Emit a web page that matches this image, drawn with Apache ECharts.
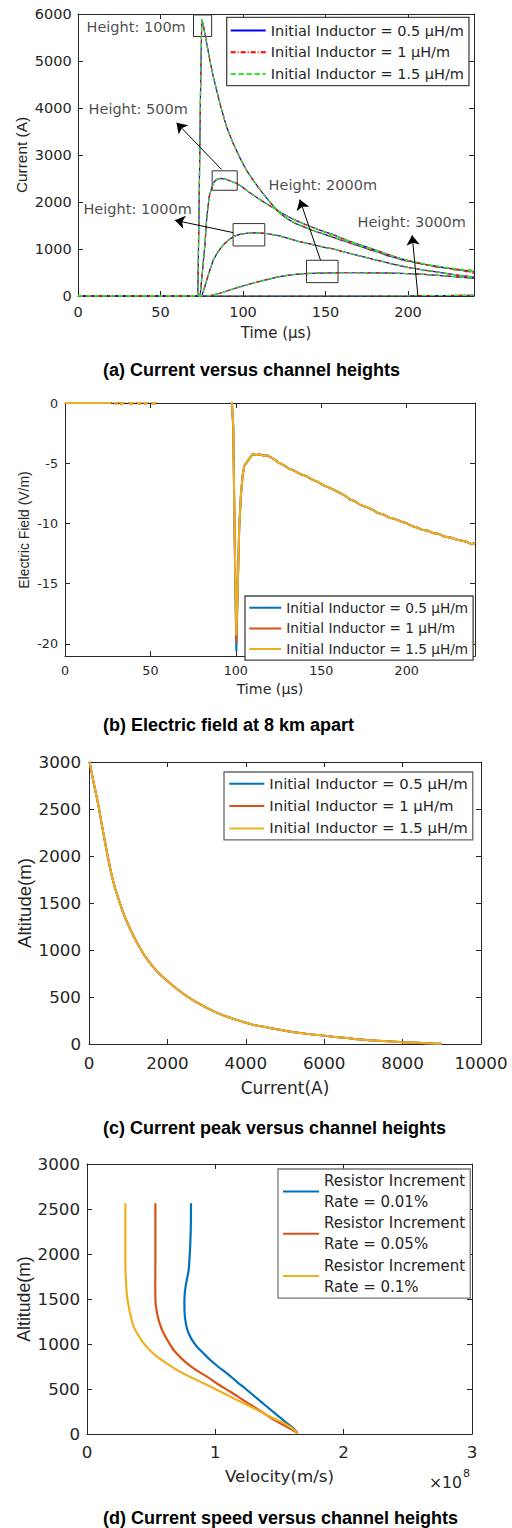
<!DOCTYPE html>
<html><head><meta charset="utf-8">
<script src="https://cdn.jsdelivr.net/npm/echarts@6/dist/echarts.min.js"></script>
<style>html,body{margin:0;padding:0;background:#fff}#c{width:512px;height:1528px}</style>
</head><body><div id="c"></div>
<script>
// ================= DATA =================
// ---- Panel (a): current (A) vs time (µs) for several channel heights ----
const a_t100 = [0, 72.6, 73.4, 74.2, 75, 75.8, 77, 78, 80, 82, 84, 86, 88, 90, 94, 98, 102, 106, 112, 117, 122, 127, 132, 137, 142, 147, 152, 157, 162, 167, 172, 177, 182, 187, 192, 197, 202, 207, 212, 217, 222, 227, 232, 236, 240];
const a_I100_L05 = [0, 0, 1900, 4200, 5880, 5790, 5560, 5376, 5000, 4667, 4380, 4100, 3850, 3603, 3248, 2950, 2681, 2470, 2185, 1970, 1770, 1640, 1540, 1470, 1400, 1340, 1280, 1220, 1160, 1100, 1045, 985, 930, 870, 815, 770, 730, 695, 660, 630, 600, 575, 550, 535, 520];
const a_I100_L1  = [0, 0, 1900, 4200, 5850, 5790, 5560, 5376, 5000, 4667, 4380, 4100, 3850, 3603, 3248, 2950, 2681, 2470, 2185, 1970, 1770, 1640, 1540, 1470, 1400, 1340, 1295, 1210, 1175, 1090, 1060, 975, 945, 860, 830, 755, 740, 680, 665, 615, 605, 560, 548, 510, 480];
const a_I100_L15 = [0, 0, 1900, 4200, 5900, 5800, 5560, 5376, 5000, 4667, 4380, 4100, 3850, 3603, 3248, 2950, 2681, 2470, 2185, 1970, 1770, 1640, 1540, 1470, 1400, 1340, 1290, 1230, 1170, 1115, 1050, 1000, 940, 885, 825, 785, 740, 710, 670, 645, 615, 595, 570, 560, 550];

const a_t500 = [0, 74, 75.5, 77, 78, 79.5, 81, 82.5, 84.5, 86.5, 90, 96, 100, 104, 109, 114, 119, 124, 129, 134, 139, 144, 150, 155, 160, 165, 170, 175, 180, 185, 190, 195, 200, 205, 210, 215, 220, 225, 230, 235, 240];
const a_I500 = [0, 0, 560, 1121, 1650, 2113, 2300, 2432, 2490, 2504, 2480, 2400, 2310, 2200, 2080, 1967, 1860, 1754, 1660, 1577, 1505, 1435, 1360, 1300, 1230, 1160, 1100, 1040, 980, 920, 860, 800, 755, 710, 675, 640, 615, 590, 565, 540, 515];

const a_t1000 = [0, 75, 76.5, 78, 80, 82, 85, 88, 91, 94, 98, 102, 106, 110, 114, 118, 122, 128, 134, 139, 144, 150, 155, 160, 165, 170, 175, 180, 185, 190, 195, 200, 205, 210, 215, 220, 225, 230, 235, 240];
const a_I1000 = [0, 0, 160, 340, 560, 766, 950, 1085, 1185, 1262, 1310, 1335, 1345, 1345, 1330, 1305, 1280, 1220, 1160, 1120, 1080, 1030, 1000, 950, 905, 860, 815, 770, 730, 685, 645, 610, 580, 550, 525, 497, 470, 445, 422, 400];

const a_t2000 = [0, 78, 82, 87, 92, 97, 102, 107, 112, 117, 122, 127, 132, 137, 142, 147, 152, 160, 170, 180, 190, 200, 210, 220, 230, 240];
const a_I2000 = [0, 0, 21, 70, 128, 182, 234, 282, 326, 370, 411, 440, 461, 474, 483, 488, 490, 495, 495, 492, 486, 476, 460, 435, 408, 376];

const a_t3000 = [0, 180, 200, 220, 240];
const a_I3000 = [0, 0, 4, 9, 16];

// annotations (data coordinates)
const a_labelText = ['Height: 100m', 'Height: 500m', 'Height: 1000m', 'Height: 2000m', 'Height: 3000m'];
const a_labelT = [4.85, 6.1, 3.0, 115.2, 169.1];
const a_labelI = [5723, 3979, 1851, 2362, 1574];
const a_boxes = [[70, 5520, 81, 5980], [81.3, 2250, 96.5, 2663], [94, 1065, 113.2, 1541], [138.5, 284, 157.6, 760]];
const a_arrows = [[87, 2692, 59.7, 3686], [94, 1349, 58.7, 1612], [147, 760, 134.4, 2052], [206, 0, 202.5, 1293]];

// ---- Panel (b): electric field (V/m) vs time (µs) ----
const b_t = [0, 26.5, 28, 30, 31.5, 33, 36, 38.8, 41, 43.5, 45.5, 47, 49.5, 52, 54, 97.6, 98.5, 99.4, 100.3, 101, 102, 103, 104, 105, 107, 109.8, 112, 114, 116, 118, 120, 122.5, 125, 128, 131, 134, 138, 141, 145, 148, 151, 154, 157.5, 161, 164, 167, 170, 173, 177, 180, 183, 187, 190, 193, 196.6, 200, 203, 206, 209, 212, 216, 219, 222, 226, 229, 232, 235, 238, 240];
const b_E_common = [0, 0, 0.3, -0.12, 0.3, -0.12, 0.3, -0.12, 0.3, -0.12, 0.3, -0.12, 0.3, -0.12, 0.3, 0.3, -2, -12, null, -15.9, -10.3, -7.6, -6.0, -5.2, -4.8, -4.25, -4.32, -4.26, -4.36, -4.33, -4.48, -4.67, -4.95, -5.15, -5.45, -5.6, -5.92, -6.05, -6.38, -6.55, -6.82, -6.98, -7.22, -7.48, -7.7, -8.02, -8.18, -8.47, -8.66, -8.86, -9.12, -9.3, -9.52, -9.62, -9.83, -9.98, -10.22, -10.33, -10.52, -10.58, -10.82, -10.88, -11.08, -11.18, -11.33, -11.42, -11.52, -11.72, -11.62];
const b_peak = [-20.6, -19.9, -19.3]; // spike minimum for 0.5, 1, 1.5 µH/m

// ---- Panel (c): current peak (A) vs altitude (m) ----
const c_I = [15, 120, 238, 320, 408, 490, 578, 660, 748, 870, 1003, 1130, 1258, 1420, 1599, 1800, 2024, 2230, 2449, 2660, 2874, 3080, 3299, 3510, 3724, 3940, 4150, 4360, 4575, 4790, 5000, 5468, 5850, 6232, 6650, 7075, 7500, 7925, 8400, 8800, 9000];
const c_alt = [3000, 2780, 2543, 2350, 2152, 1970, 1798, 1665, 1550, 1400, 1266, 1155, 1053, 940, 840, 745, 663, 590, 521, 465, 415, 368, 326, 292, 262, 234, 209, 190, 174, 157, 142, 113, 95, 78, 60, 43, 31, 21, 12, 5, 2];
const c_I_05 = c_I, c_I_1 = c_I, c_I_15 = c_I;

// ---- Panel (d): velocity (×1e8 m/s) vs altitude (m) ----
const d_alt_001 = [2563, 2400, 2250, 2119, 1980, 1822, 1730, 1637, 1545, 1452, 1360, 1267, 1190, 1119, 1045, 970, 900, 822, 750, 674, 580, 489, 396, 303, 210, 119, 60, 10];
const d_v_001 = [0.81, 0.81, 0.808, 0.805, 0.80, 0.792, 0.78, 0.768, 0.761, 0.759, 0.760, 0.766, 0.776, 0.792, 0.818, 0.857, 0.905, 0.961, 1.02, 1.091, 1.168, 1.247, 1.325, 1.403, 1.481, 1.559, 1.61, 1.642];
const d_alt_005 = [2563, 2200, 1933, 1700, 1489, 1420, 1341, 1230, 1119, 1030, 933, 860, 785, 710, 637, 550, 470, 385, 303, 220, 137, 70, 10];
const d_v_005 = [0.533, 0.533, 0.533, 0.532, 0.533, 0.537, 0.546, 0.566, 0.597, 0.632, 0.675, 0.722, 0.779, 0.851, 0.935, 1.025, 1.117, 1.208, 1.299, 1.39, 1.481, 1.57, 1.642];
const d_alt_01 = [2563, 2200, 1933, 1780, 1637, 1520, 1415, 1300, 1193, 1100, 1007, 930, 859, 785, 711, 637, 563, 480, 396, 313, 230, 165, 100, 50, 5];
const d_v_01 = [0.299, 0.299, 0.299, 0.301, 0.306, 0.313, 0.325, 0.342, 0.364, 0.398, 0.442, 0.490, 0.546, 0.62, 0.701, 0.80, 0.909, 1.026, 1.143, 1.26, 1.377, 1.468, 1.559, 1.61, 1.642];

const inductorNames = ['Initial Inductor = 0.5 µH/m', 'Initial Inductor = 1 µH/m', 'Initial Inductor = 1.5 µH/m'];
const resistorNames = ['Resistor Increment\nRate = 0.01%', 'Resistor Increment\nRate = 0.05%', 'Resistor Increment\nRate = 0.1%'];

// ================= CHART =================
const AXC = '#262626';
const FH = 'DejaVu Sans';
const FR = 'Liberation Sans';
const pairs = (xs, ys) => xs.map((x, i) => [x, ys[i]]);
const strip = n => n.replace(/\u200B/g, '');
const tag = (n, k) => n + '\u200B'.repeat(k);

function axisPair(kind, grid, min, max, interval, fs, margin, extra) {
  const base = {gridIndex: grid, type: 'value', min, max, splitLine: {show: false},
    axisLine: {show: true, onZero: false, lineStyle: {color: AXC, width: 1}},
    axisTick: {show: true, inside: true, length: 5, lineStyle: {color: AXC, width: 1}}};
  if (interval != null) base.interval = interval;
  const lab = Object.assign({show: true, color: AXC, fontSize: fs, fontFamily: FH, margin, formatter: v => String(v)}, extra || {});
  return [
    Object.assign({}, base, {position: kind === 'x' ? 'bottom' : 'left', axisLabel: lab}),
    Object.assign({}, base, {position: kind === 'x' ? 'top' : 'right', axisLabel: {show: false}})
  ];
}

const xAxis = [].concat(
  axisPair('x', 0, 0, 240, 50, 14.5, 8.5, {showMaxLabel: false}),
  axisPair('x', 1, 0, 240, 50, 12.7, 7.5, {showMaxLabel: false}),
  axisPair('x', 2, 0, 10000, 2000, 16.7, 10.5),
  axisPair('x', 3, 0, 3, 1, 16.7, 9.7)
);
const yAxis = [].concat(
  axisPair('y', 0, 0, 6000, 1000, 14.5, 6.3),
  axisPair('y', 1, -21, 0, null, 12.7, 7, {showMinLabel: false}),
  axisPair('y', 2, 0, 3000, 500, 16.7, 8),
  axisPair('y', 3, 0, 3000, 500, 16.7, 7)
);

const series = [];
// Panel (a)
const aSets = [
  [a_t100, [a_I100_L05, a_I100_L1, a_I100_L15]],
  [a_t500, [a_I500, a_I500, a_I500]],
  [a_t1000, [a_I1000, a_I1000, a_I1000]],
  [a_t2000, [a_I2000, a_I2000, a_I2000]],
  [a_t3000, [a_I3000, a_I3000, a_I3000]]
];
const aStyles = [
  {color: '#0000ff', type: 'solid'},
  {color: '#ff0000', type: [5, 2, 1, 2]},
  {color: '#22ee22', type: [5, 3]}
];
for (let k = 0; k < 3; k++) {
  aSets.forEach(([t, arr]) => {
    series.push({type: 'line', name: inductorNames[k], xAxisIndex: 0, yAxisIndex: 0,
      data: pairs(t, arr[k]), symbol: 'none', showSymbol: false,
      lineStyle: {color: aStyles[k].color, width: 1.2, type: aStyles[k].type},
      itemStyle: {color: aStyles[k].color}, silent: true, z: 2 + k});
  });
}
// annotations in (a)
series.push({
  type: 'scatter', xAxisIndex: 0, yAxisIndex: 0, silent: true, z: 6,
  data: a_labelText.map((s, i) => ({value: [a_labelT[i], a_labelI[i]], name: s})),
  symbolSize: 1, itemStyle: {color: 'rgba(0,0,0,0)'},
  label: {show: true, position: 'right', distance: 0, formatter: p => p.name,
    color: '#1a1a1a', fontFamily: FH, fontSize: 14.5},
  markLine: {silent: true, symbol: ['none', 'arrow'], symbolSize: 10, animation: false,
    lineStyle: {color: '#000', width: 1, type: 'solid'}, label: {show: false},
    emphasis: {disabled: true},
    data: a_arrows.map(a => [{coord: [a[0], a[1]]}, {coord: [a[2], a[3]]}])},
  markArea: {silent: true, itemStyle: {color: 'rgba(0,0,0,0)', borderColor: '#333', borderWidth: 1},
    label: {show: false}, emphasis: {disabled: true},
    data: a_boxes.map(b => [{coord: [b[0], b[1]]}, {coord: [b[2], b[3]]}])}
});

// Panel (b)
const matlab = ['#0072BD', '#D95319', '#EDB120'];
const peakIdx = b_E_common.indexOf(null);
for (let k = 0; k < 3; k++) {
  const ys = b_E_common.slice(); ys[peakIdx] = b_peak[k];
  series.push({type: 'line', name: tag(inductorNames[k], 1), xAxisIndex: 2, yAxisIndex: 2,
    data: pairs(b_t, ys), symbol: 'none', showSymbol: false,
    lineStyle: {color: matlab[k], width: 2}, itemStyle: {color: matlab[k]}, silent: true});
}
// Panel (c)
const cI = [c_I_05, c_I_1, c_I_15];
for (let k = 0; k < 3; k++) {
  series.push({type: 'line', name: tag(inductorNames[k], 2), xAxisIndex: 4, yAxisIndex: 4,
    data: pairs(cI[k], c_alt), symbol: 'none', showSymbol: false, smooth: 0.3,
    lineStyle: {color: matlab[k], width: 2}, itemStyle: {color: matlab[k]}, silent: true});
}
// Panel (d)
const dV = [d_v_001, d_v_005, d_v_01], dA = [d_alt_001, d_alt_005, d_alt_01];
for (let k = 0; k < 3; k++) {
  series.push({type: 'line', name: resistorNames[k], xAxisIndex: 6, yAxisIndex: 6,
    data: pairs(dV[k], dA[k]), symbol: 'none', showSymbol: false, smooth: 0.35,
    lineStyle: {color: matlab[k], width: 2.2}, itemStyle: {color: matlab[k]}, silent: true});
}

function legendOf(names, left, top, padding, iw, ih, gap, fs, lh, border) {
  return {data: names, orient: 'vertical', left, top, padding, itemWidth: iw, itemHeight: ih,
    itemGap: gap, borderColor: border, borderWidth: 1.3, backgroundColor: '#fff', selectedMode: false,
    itemStyle: {opacity: 0, borderWidth: 0},
    formatter: strip, textStyle: {fontFamily: FH, fontSize: fs, color: AXC, lineHeight: lh}};
}
const legend = [
  legendOf(inductorNames, 226.7, 17.3, [5.7, 5, 4.3, 3], 35, 14, 6.7, 14.5, 14, '#444'),
  legendOf(inductorNames.map(n => tag(n, 1)), 245, 596, [4.7, 5, 4, 3.3], 32, 12, 6.7, 13.65, 12, '#444'),
  legendOf(inductorNames.map(n => tag(n, 2)), 224, 772, [4.3, 5, 4, 4.3], 35, 14, 7.3, 14.9, 14, '#666'),
  legendOf(resistorNames, 278, 1169, [1.5, 5, 1, 4], 36, 10, 0.3, 15, 21, '#777')
];

function txt(s, x, y, size, family, opt) {
  return Object.assign({type: 'text', x, y, silent: true,
    style: {text: s, fontSize: size, fontFamily: family, fill: AXC, align: 'center', verticalAlign: 'middle'}}, opt || {});
}
function rot(s, x, y, size) {
  return {type: 'text', x, y, rotation: Math.PI / 2, silent: true,
    style: {text: s, fontSize: size, fontFamily: FR, fill: AXC, align: 'center', verticalAlign: 'middle'}};
}
function cap(s, y) {
  return {type: 'text', x: 103, y, silent: true,
    style: {text: s, fontSize: 18, fontFamily: FR, fontWeight: 'bold', fill: '#000', align: 'left', verticalAlign: 'middle'}};
}
const graphic = [
  txt('Time (µs)', 276, 333, 15, FH),
  rot('Current (A)', 21, 155, 15.4),
  cap('(a) Current versus channel heights', 370),
  txt('Time (µs)', 270, 689, 14.2, FH),
  rot('Electric Field (V/m)', 24, 530, 13.9),
  cap('(b) Electric field at 8 km apart', 725),
  txt('Current(A)', 285, 1088, 17, FH),
  rot('Altitude(m)', 24, 903, 18.6),
  cap('(c) Current peak versus channel heights', 1128),
  txt('Velocity(m/s)', 279.5, 1476, 16.7, FH),
  rot('Altitude(m)', 24, 1299, 17.7),
  {type: 'text', x: 462, y: 1482, silent: true, style: {text: '×10', fontSize: 15.7, fontFamily: FH, fill: AXC, align: 'right', verticalAlign: 'middle'}},
  {type: 'text', x: 463, y: 1473, silent: true, style: {text: '8', fontSize: 11, fontFamily: FH, fill: AXC, align: 'left', verticalAlign: 'middle'}},
  cap('(d) Current speed versus channel heights', 1518)
];

const chart = echarts.init(document.getElementById('c'), null, {renderer: 'svg', width: 512, height: 1528});
chart.setOption({
  animation: false,
  backgroundColor: '#fff',
  grid: [
    {left: 78, top: 14, width: 396, height: 282},
    {left: 65, top: 403, width: 410, height: 253},
    {left: 89, top: 762, width: 392, height: 282},
    {left: 87, top: 1164, width: 385, height: 270}
  ],
  xAxis, yAxis, legend, series, graphic
});
</script></body></html>
